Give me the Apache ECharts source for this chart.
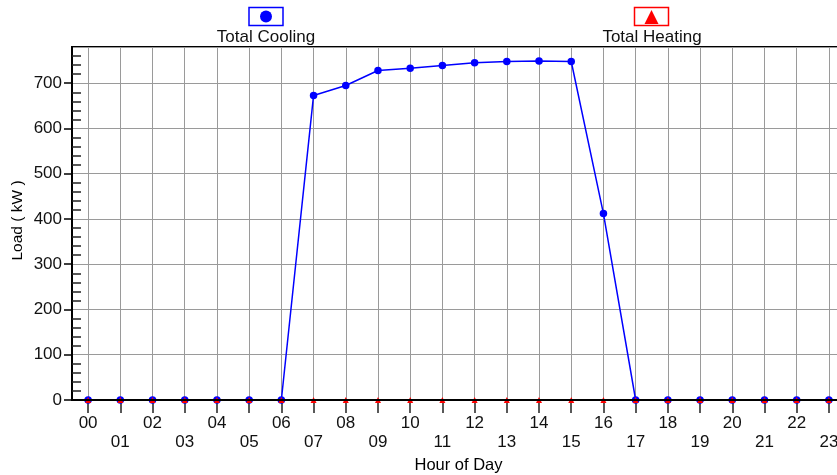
<!DOCTYPE html>
<html>
<head>
<meta charset="utf-8">
<script src="https://cdn.jsdelivr.net/npm/echarts@6/dist/echarts.min.js"></script>
<style>
html,body{margin:0;padding:0;background:#fff;}
#chart{width:837px;height:475px;}
</style>
</head>
<body>
<div id="chart"></div>
<script>
const hours = ['00','01','02','03','04','05','06','07','08','09','10','11','12','13','14','15','16','17','18','19','20','21','22','23'];
const totalCooling = [0,0,0,0,0,0,0,673,695,728,733,739,745,748,749,748,412,0,0,0,0,0,0,0];
const totalHeating = [0,0,0,0,0,0,0,0,0,0,0,0,0,0,0,0,0,0,0,0,0,0,0,0];
const seriesNames = ['Total Cooling','Total Heating'];
const yMax = 780;

const hourIdx = hours.map((h,i)=>i);
const minorTicks = [];
for (let v = 20; v < yMax; v += 20) { if (v % 100 !== 0) minorTicks.push(v); }
const FONT = 'Liberation Sans, Arial, sans-serif';
const chart = echarts.init(document.getElementById('chart'), null, {renderer:'canvas'});

chart.setOption({
  animation:false,
  backgroundColor:'#fff',
  textStyle:{fontFamily:FONT},
  grid:{left:72, top:47, width:773, height:353, outerBoundsMode:'none', containLabel:false,
        show:true, borderColor:'#000', borderWidth:2, backgroundColor:'transparent'},
  xAxis:[{
    type:'value', min:-0.5, max:23.5,
    name:'Hour of Day', nameLocation:'middle', nameGap:56,
    nameTextStyle:{fontSize:16.5, color:'#000', fontFamily:FONT},
    axisLine:{onZero:false, lineStyle:{color:'#000', width:2}},
    axisTick:{show:true, customValues:hourIdx, length:13, lineStyle:{color:'#222', width:1.5}},
    axisLabel:{customValues:hourIdx, fontSize:17, color:'#111', lineHeight:19, margin:14, fontFamily:FONT,
      formatter:function(v){ const i=Math.round(v); return (i%2 ? '\n' : '') + hours[i]; }},
    splitLine:{show:true, lineStyle:{color:'#9a9a9a', width:1}}
  },{
    type:'value', min:-0.5, max:23.5, position:'bottom', z:10,
    axisLine:{show:true, onZero:false, lineStyle:{color:'#000', width:2}},
    axisTick:{show:false}, axisLabel:{show:false}, splitLine:{show:false}
  }],
  yAxis:[{
    type:'value', min:0, max:yMax, interval:100,
    name:'Load ( kW )', nameLocation:'middle', nameGap:46, nameMoveOverlap:false,
    nameTextStyle:{fontSize:15.5, color:'#000', fontFamily:FONT, padding:[0,0,0,6]},
    axisLine:{show:true, onZero:false, lineStyle:{color:'#000', width:2}},
    axisTick:{show:true, length:8, lineStyle:{color:'#000', width:1.5}},
    axisLabel:{fontSize:17, color:'#111', margin:10, showMaxLabel:false, fontFamily:FONT},
    splitLine:{show:true, lineStyle:{color:'#9a9a9a', width:1}}
  },{
    type:'value', min:0, max:yMax, position:'left',
    axisLine:{show:false, onZero:false},
    axisTick:{show:true, inside:true, length:9, customValues:minorTicks, lineStyle:{color:'#222', width:1.5}},
    axisLabel:{show:false},
    splitLine:{show:false}
  }],
  series:[{
    name:seriesNames[0], type:'line', xAxisIndex:0, yAxisIndex:0,
    data:totalCooling.map((v,i)=>[i,v]),
    symbol:'circle', symbolSize:7.5,
    itemStyle:{color:'#0000ff'},
    lineStyle:{color:'#0000ff', width:1.5},
    z:3
  },{
    name:seriesNames[1], type:'line', xAxisIndex:0, yAxisIndex:0,
    data:totalHeating.map((v,i)=>[i,v]),
    symbol:'triangle', symbolSize:6,
    itemStyle:{color:'#ff0000'},
    lineStyle:{opacity:0},
    z:4
  }],
  graphic:[
    {type:'rect', shape:{x:249, y:7.5, width:34, height:18}, style:{fill:'#fff', stroke:'#0000ff', lineWidth:1.5}},
    {type:'circle', shape:{cx:266, cy:16.5, r:6}, style:{fill:'#0000ff'}},
    {type:'text', x:266, y:37, style:{text:seriesNames[0], fontSize:17, fill:'#111', align:'center', verticalAlign:'middle', fontFamily:FONT}},
    {type:'rect', shape:{x:634.5, y:7.5, width:34, height:18}, style:{fill:'#fff', stroke:'#ff0000', lineWidth:1.5}},
    {type:'polygon', shape:{points:[[651.5,10],[658.5,24],[644.5,24]]}, style:{fill:'#ff0000'}},
    {type:'text', x:652, y:37, style:{text:seriesNames[1], fontSize:17, fill:'#111', align:'center', verticalAlign:'middle', fontFamily:FONT}}
  ]
});
</script>
</body>
</html>
